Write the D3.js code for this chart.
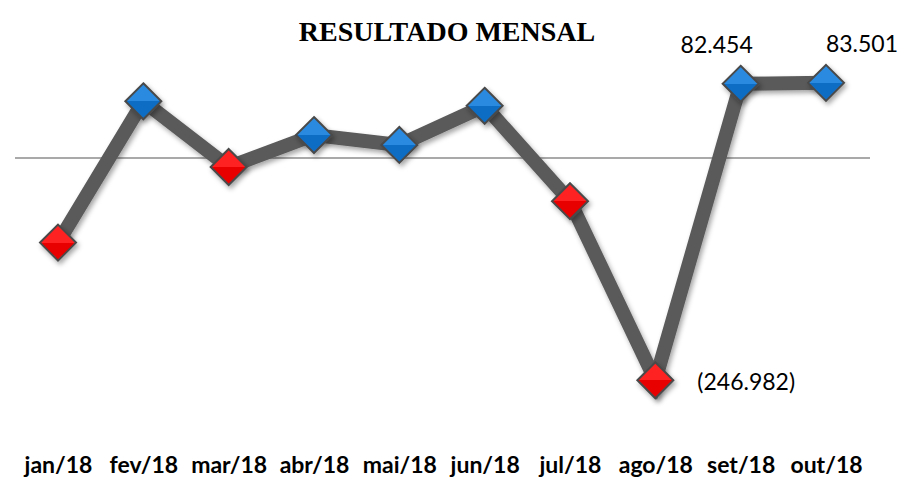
<!DOCTYPE html>
<html>
<head>
<meta charset="utf-8">
<script src="https://cdn.jsdelivr.net/npm/d3@7"></script>
<style>
  body { margin: 0; background: #fff; }
</style>
</head>
<body>
<svg id="chart" width="903" height="478"></svg>
<script>
const months = ["jan/18", "fev/18", "mar/18", "abr/18", "mai/18", "jun/18", "jul/18", "ago/18", "set/18", "out/18"];
const results = [-94000, 63000, -10000, 25500, 14500, 58000, -48000, -246982, 82454, 83501];
// rótulos exibidos só em alguns pontos
const shownLabels = { 7: "(246.982)", 8: "82.454", 9: "83.501" };

const svg = d3.select("#chart");

const x = d3.scalePoint()
    .domain(months)
    .range([58, 826]);

const y = d3.scaleLinear()
    .domain([-260000, 100000])
    .range([392, 68]);

const defs = svg.append("defs");

const shadow = defs.append("filter").attr("id", "shadow")
    .attr("x", "-50%").attr("y", "-50%").attr("width", "200%").attr("height", "200%");
shadow.append("feDropShadow")
    .attr("dx", 2).attr("dy", 3).attr("stdDeviation", 2.5)
    .attr("flood-color", "#000").attr("flood-opacity", 0.35);

function gradient(id, light, dark) {
    const g = defs.append("linearGradient").attr("id", id)
        .attr("x1", 0).attr("y1", 0).attr("x2", 0).attr("y2", 1);
    g.append("stop").attr("offset", "0%").attr("stop-color", light);
    g.append("stop").attr("offset", "50%").attr("stop-color", light);
    g.append("stop").attr("offset", "50%").attr("stop-color", dark);
    g.append("stop").attr("offset", "100%").attr("stop-color", dark);
}
gradient("gBlue", "#2a8ae0", "#0e6cc4");
gradient("gRed", "#ff2020", "#e80000");

// título
svg.append("text")
    .attr("x", 447)
    .attr("y", 41)
    .attr("text-anchor", "middle")
    .attr("font-family", "'Liberation Serif', serif")
    .attr("font-weight", "bold")
    .attr("font-size", 28)
    .attr("fill", "#000")
    .text("RESULTADO MENSAL");

// linha do zero
svg.append("line")
    .attr("x1", 15).attr("x2", 870)
    .attr("y1", y(0)).attr("y2", y(0))
    .attr("stroke", "#8c8c8c")
    .attr("stroke-width", 1.5);

// linha dos resultados
const line = d3.line()
    .x((d, i) => x(months[i]))
    .y(d => y(d));

svg.append("path")
    .datum(results)
    .attr("d", line)
    .attr("fill", "none")
    .attr("stroke", "#5a5a5a")
    .attr("stroke-width", 14)
    .attr("stroke-linejoin", "miter")
    .attr("filter", "url(#shadow)");

// marcadores
const r = 18;
svg.selectAll(".marker")
    .data(results)
    .enter()
    .append("path")
    .attr("class", "marker")
    .attr("d", (d, i) => {
        const cx = x(months[i]), cy = y(d);
        return `M${cx},${cy - r}L${cx + r},${cy}L${cx},${cy + r}L${cx - r},${cy}Z`;
    })
    .attr("fill", d => d >= 0 ? "url(#gBlue)" : "url(#gRed)")
    .attr("stroke", "#4a4a4a")
    .attr("stroke-width", 2)
    .attr("filter", "url(#shadow)");

// rótulos de dados (o último fica à direita do ponto, o anterior à esquerda)
const last = months.length - 1;
Object.keys(shownLabels).forEach(k => {
    const i = +k;
    const v = results[i];
    const neg = v < 0;
    let lx, anchor;
    if (neg) { lx = x(months[i]) + 42; anchor = "start"; }
    else if (i === last) { lx = x(months[i]) + 36; anchor = "middle"; }
    else { lx = x(months[i]) - 24; anchor = "middle"; }
    svg.append("text")
        .attr("x", lx)
        .attr("y", neg ? y(v) + 10 : y(v) - 31)
        .attr("text-anchor", anchor)
        .attr("font-family", "Lato, 'Open Sans', sans-serif")
        .attr("font-size", 23)
        .attr("fill", "#000")
        .text(shownLabels[k]);
});

// eixo x
const xAxis = d3.axisBottom(x).tickSize(0).tickPadding(0);
const gx = svg.append("g")
    .attr("transform", "translate(0, 457)")
    .call(xAxis);
gx.select(".domain").remove();
gx.selectAll("text")
    .attr("font-family", "Lato, 'Open Sans', sans-serif")
    .attr("font-weight", "bold")
    .attr("font-size", 23)
    .attr("fill", "#000");
</script>
</body>
</html>
